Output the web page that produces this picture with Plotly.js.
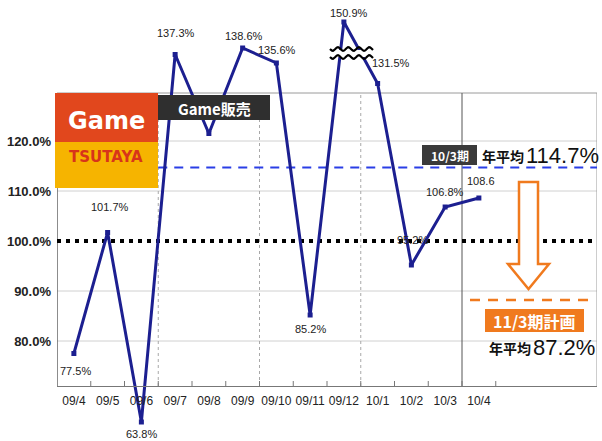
<!DOCTYPE html>
<html>
<head>
<meta charset="utf-8">
<script src="https://cdn.plot.ly/plotly-3.0.1.min.js"></script>
<style>html,body{margin:0;padding:0;background:#fff}#chart{width:602px;height:441px}</style>
</head>
<body>
<div id="chart"></div>
<script>
// ---- data ----
const months = ['09/4','09/5','09/6','09/7','09/8','09/9','09/10','09/11','09/12','10/1','10/2','10/3','10/4'];
const ratio = [77.5, 101.7, 63.8, 137.3, 121.5, 138.6, 135.6, 85.2, 150.9, 131.5, 95.2, 106.8, 108.6];
const pointLabels = ['77.5%','101.7%','63.8%','137.3%','','138.6%','135.6%','85.2%','150.9%','131.5%','95.2%','106.8%','108.6'];
const yTickVals = [80, 90, 100, 110, 120];
const yTickText = ['80.0%','90.0%','100.0%','110.0%','120.0%'];
const avg10 = 114.7;   // 10/3期 年平均
const plan11 = 87.2;   // 11/3期計画 年平均
const baseLine = 100;
// axis break (values above breakAbove drawn compressed)
const breakAbove = 145, breakGap = 7.1;

// ---- helpers (styling) ----
const L = 57, W = 540, H = 441;
const px = x => (x - L) / W;
const py = y => (H - y) / H;
const NARROW = 'Liberation Sans, Arial, sans-serif';
const CJK = 'Noto Sans CJK JP, sans-serif';

const plotted = ratio.map(v => v > breakAbove ? v - breakGap : v);
const xIdx = months.map((m, i) => i);

const trace = {
  x: xIdx, y: plotted, type: 'scatter', mode: 'lines+markers',
  line: {color: '#1c1f90', width: 3},
  marker: {symbol: 'square', size: 5, color: '#1c1f90'},
  hoverinfo: 'skip'
};

const labelOffsets = [[2,-17],[2,26],[0,-12],[1,22],null,[1,12],[1,13],[0,-14],[5,9],[13,21],[1,25],[0,15],[2,17]];

const annotations = [];
pointLabels.forEach((t, i) => {
  if (!t) return;
  const o = labelOffsets[i];
  annotations.push({x: i, y: plotted[i], xref: 'x', yref: 'y', text: t, showarrow: false,
    xshift: o[0], yshift: o[1], font: {family: NARROW, size: 11, color: '#222'}});
});

function pa(x, y, text, font, xanchor) {
  annotations.push({x: px(x), y: py(y), xref: 'paper', yref: 'paper', text: text, showarrow: false,
    xanchor: xanchor || 'center', yanchor: 'middle', font: font});
}
pa(106.5, 121, '<b>Game</b>', {family: 'DejaVu Sans', size: 24, color: '#ffffff'});
pa(106, 157, '<b>TSUTAYA</b>', {family: 'DejaVu Sans', size: 15, color: '#d8341a'});
pa(214, 108, '<b>Game販売</b>', {family: CJK, size: 15, color: '#ffffff'});
pa(449.5, 155, '<b>10/3期</b>', {family: CJK, size: 12, color: '#ffffff'});
pa(526, 156, '<b>年平均</b>', {family: CJK, size: 14, color: '#111'}, 'right');
pa(524, 155, avg10.toFixed(1) + '%', {family: NARROW, size: 22, color: '#111'}, 'left');
pa(534.5, 320.5, '<b>11/3期計画</b>', {family: CJK, size: 16, color: '#ffffff'});
pa(533, 348, '<b>年平均</b>', {family: CJK, size: 14, color: '#111'}, 'right');
pa(531, 347, plan11.toFixed(1) + '%', {family: NARROW, size: 22, color: '#111'}, 'left');

const shapes = [];
function rectP(x0, y0, x1, y1, fill, layer) {
  shapes.push({type: 'rect', xref: 'paper', yref: 'paper', x0: px(x0), x1: px(x1), y0: py(y1), y1: py(y0),
    fillcolor: fill, line: {width: 0}, layer: layer || 'above'});
}
function lineP(x0, y0, x1, y1, line, layer) {
  shapes.push({type: 'line', xref: 'paper', yref: 'paper', x0: px(x0), x1: px(x1), y0: py(y0), y1: py(y1),
    line: line, layer: layer || 'below'});
}
const yTop = 129.6, yBot = 71;
// horizontal gridlines (except the 100% baseline)
yTickVals.filter(v => v !== baseLine).forEach(v => shapes.push({type: 'line', xref: 'x', yref: 'y',
  x0: -0.5, x1: 15.5, y0: v, y1: v, line: {color: '#d0d0d0', width: 1}, layer: 'below'}));
// frame
shapes.push({type: 'line', xref: 'x', yref: 'y', x0: -0.5, x1: 15.5, y0: yTop, y1: yTop, line: {color: '#9a9a9a', width: 1}, layer: 'below'});
shapes.push({type: 'line', xref: 'x', yref: 'y', x0: -0.5, x1: -0.5, y0: yBot, y1: yTop, line: {color: '#666', width: 1.5}, layer: 'below'});
shapes.push({type: 'line', xref: 'x', yref: 'y', x0: 15.5, x1: 15.5, y0: yBot, y1: yTop, line: {color: '#9a9a9a', width: 1}, layer: 'below'});
// vertical separators
[2.5, 5.5, 8.5].forEach(v => shapes.push({type: 'line', xref: 'x', yref: 'y', x0: v, x1: v, y0: yBot, y1: yTop,
  line: {color: '#a8a8a8', width: 1, dash: 'dot'}, layer: 'below'}));
shapes.push({type: 'line', xref: 'x', yref: 'y', x0: 11.5, x1: 11.5, y0: yBot, y1: yTop, line: {color: '#555', width: 1}, layer: 'below'});
// x tick marks
for (let k = 0.5; k <= 12.5; k += 1) {
  shapes.push({type: 'line', xref: 'x', yref: 'y', x0: k, x1: k, y0: yBot, y1: yBot + 1, line: {color: '#777', width: 1}, layer: 'below'});
}
// 100% baseline
shapes.push({type: 'line', xref: 'x', yref: 'y', x0: -0.5, x1: 15.5, y0: baseLine, y1: baseLine,
  line: {color: '#000', width: 4, dash: '4px,5px'}, layer: 'below'});
// 10/3 average line
shapes.push({type: 'line', xref: 'x', yref: 'y', x0: 2.5, x1: 15.5, y0: avg10, y1: avg10,
  line: {color: '#2a3ee6', width: 2, dash: '9px,7px'}, layer: 'below'});
// plan line
lineP(470, 300, 590, 300, {color: '#f07a1e', width: 2.5, dash: '10px,8px'}, 'above');
// arrow
const arr = [[519,182],[538,182],[538,264],[549,264],[528.5,289],[508,264],[519,264]];
shapes.push({type: 'path', xref: 'paper', yref: 'paper',
  path: 'M' + arr.map(p => px(p[0]) + ',' + py(p[1])).join(' L') + ' Z',
  fillcolor: '#ffffff', line: {color: '#f07a1e', width: 2.5}, layer: 'above'});
// logo
rectP(55, 93, 158, 142, '#e1471d');
rectP(55, 142, 158, 188, '#f6b400');
// label boxes
rectP(158, 95, 270, 120, '#2f2f2f');
rectP(422, 145, 477, 165, '#3a3a3a');
rectP(485, 309, 584, 332, '#f07a1e');
// axis break symbol
rectP(330, 50, 373, 57, '#ffffff');
function wave(y0) {
  let s = '';
  for (let x = 330; x <= 373; x += 1) {
    const y = y0 + 1.8 * Math.sin((x - 330) / 10.5 * 2 * Math.PI);
    s += (x === 330 ? 'M' : ' L') + px(x) + ',' + py(y);
  }
  return s;
}
shapes.push({type: 'path', xref: 'paper', yref: 'paper', path: wave(49), line: {color: '#000', width: 2.2}, layer: 'above'});
shapes.push({type: 'path', xref: 'paper', yref: 'paper', path: wave(57), line: {color: '#000', width: 2.2}, layer: 'above'});

const layout = {
  width: 602, height: 441,
  margin: {l: L, r: 602 - L - W, t: 0, b: 0, pad: 0},
  paper_bgcolor: '#ffffff', plot_bgcolor: '#ffffff',
  showlegend: false,
  xaxis: {range: [-0.5, 15.5], tickmode: 'array', tickvals: xIdx, ticktext: months, tickangle: 0,
    ticks: '', showgrid: false, zeroline: false, showline: true, linecolor: '#777', linewidth: 1,
    anchor: 'free', position: (H - 386) / H, ticklabelstandoff: 4,
    tickfont: {family: NARROW, size: 12, color: '#222'}},
  yaxis: {range: [60, 148.2], tickmode: 'array', tickvals: yTickVals,
    ticktext: yTickText.map(t => '<b>' + t + '</b>'),
    showgrid: false, zeroline: false, showline: false, ticks: '',
    ticklabelstandoff: 5, tickfont: {family: NARROW, size: 13, color: '#222'}},
  shapes: shapes,
  annotations: annotations
};

Plotly.newPlot('chart', [trace], layout, {displayModeBar: false, staticPlot: true});
</script>
</body>
</html>
